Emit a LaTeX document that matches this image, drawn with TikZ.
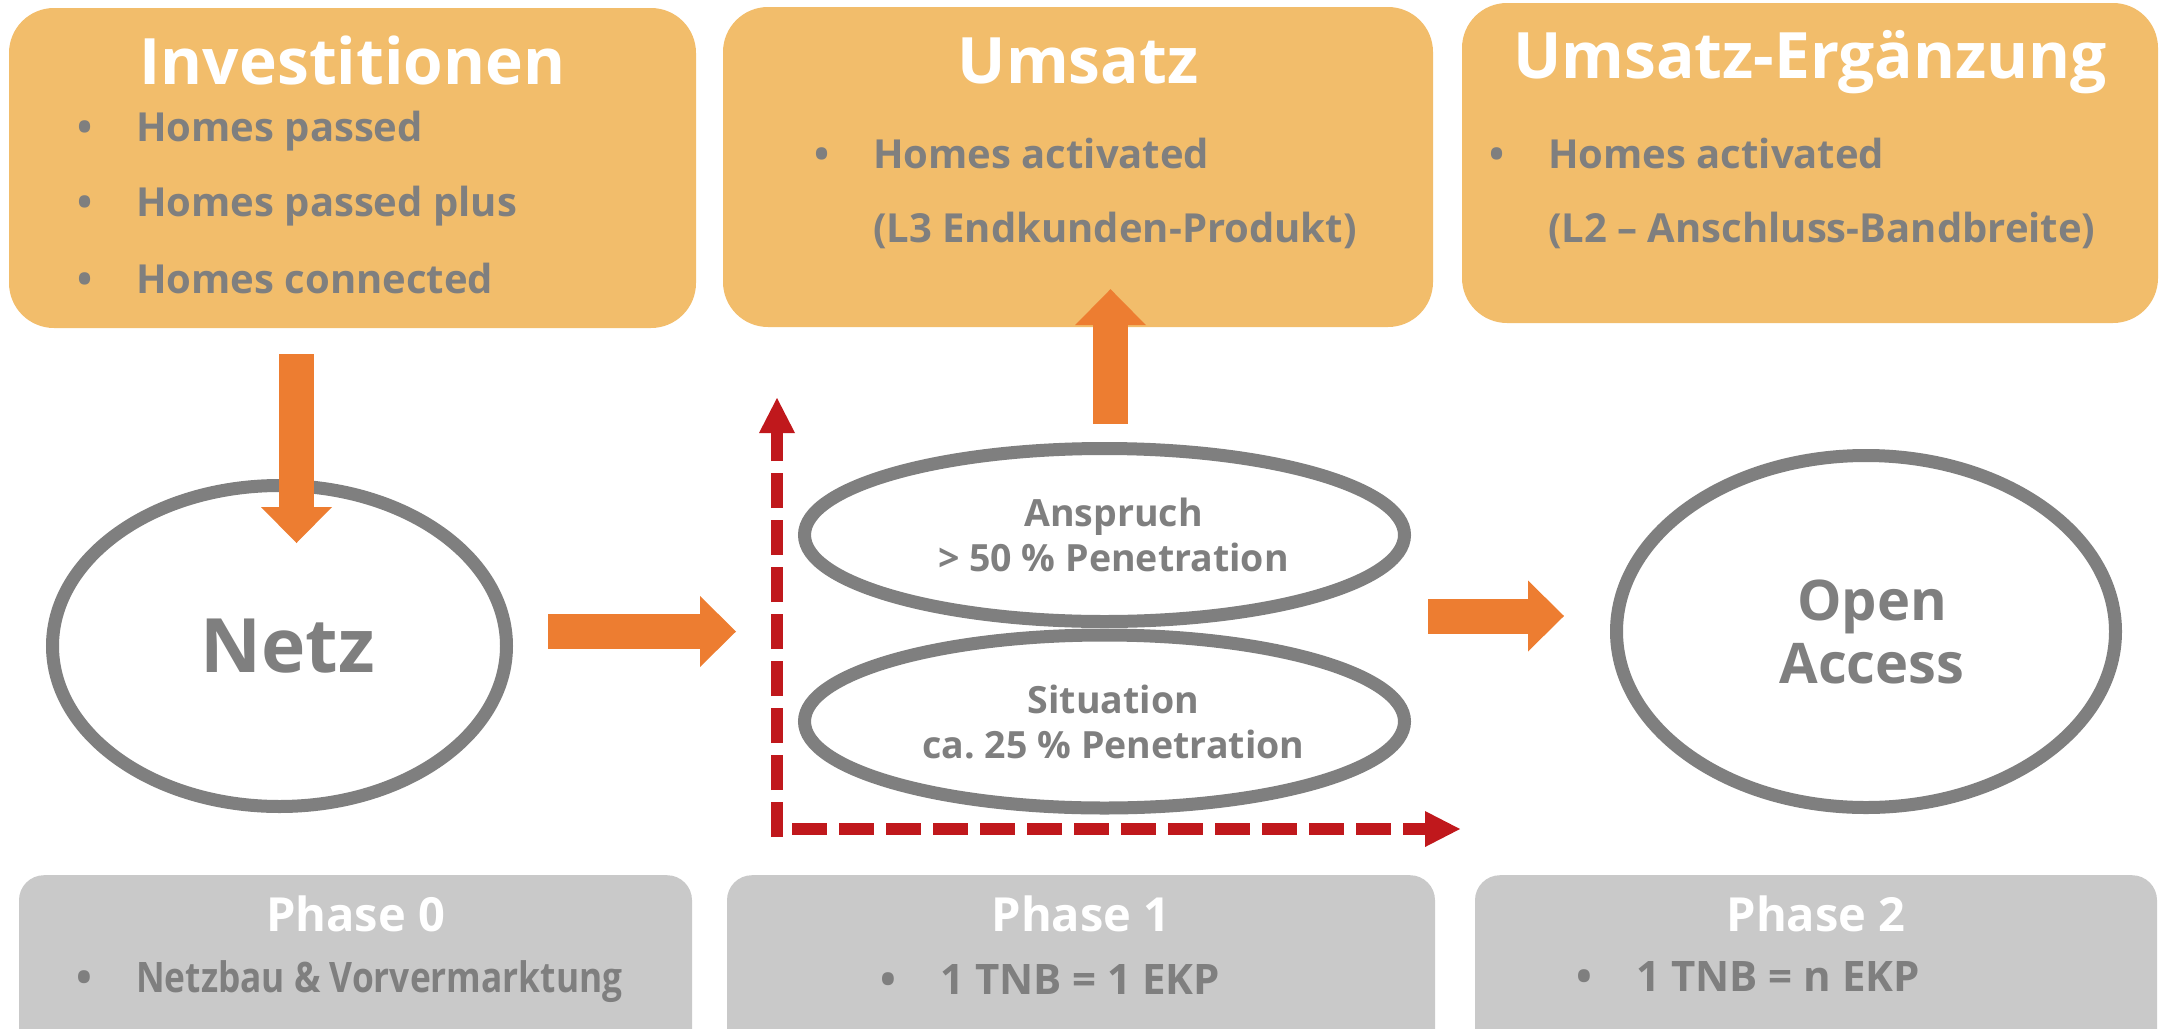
\documentclass[tikz,border=0pt]{standalone}
\usepackage{fontspec}
\setmainfont{Open Sans}
\usepackage{xcolor}
\usetikzlibrary{shapes.geometric,arrows.meta}

\definecolor{boxorange}{HTML}{F2BD6B}
\definecolor{arroworange}{HTML}{ED7D31}
\definecolor{textgray}{HTML}{7F7F7F}
\definecolor{phasegray}{HTML}{C9C9C9}
\definecolor{axisred}{HTML}{C0181C}

\newcommand{\bul}[1]{\makebox[0pt][r]{\textbullet\hspace{44pt}}#1}

\tikzset{
	topbox/.style={rectangle, rounded corners=45pt, fill=boxorange, minimum height=320pt, minimum width=#1},
	phasebox/.style={rectangle, rounded corners=25pt, fill=phasegray, anchor=north, minimum height=300pt, minimum width=#1},
	boxtitle/.style={text=white, anchor=base, inner sep=0pt, font=\bfseries\fontsize{64}{77}\selectfont},
	phasetitle/.style={text=white, anchor=base, inner sep=0pt, font=\bfseries\fontsize{47}{56}\selectfont},
	item/.style={text=textgray, anchor=base west, inner sep=0pt, font=\bfseries\fontsize{40}{48}\selectfont},
	ring/.style={ellipse, draw=textgray, line width=13pt, fill=white, text=textgray, inner sep=0pt, outer sep=0pt, align=center},
	bigarrow/.style={arroworange, line width=35pt, -{Triangle[width=71pt,length=36pt,line width=0pt]}},
	axisline/.style={axisred, line width=12pt, dash pattern=on 35pt off 12pt, -{Triangle[width=36pt,length=35pt,line width=0pt]}}
}

\begin{document}
\begin{tikzpicture}[x=1pt, y=-1pt]
		%\draw[help lines] (0,0) grid[step=100] (2160,1028);
		\useasboundingbox (0,0) rectangle (2160,1028);
		\clip (0,0) rectangle (2160,1028);

		% top boxes
		\node[topbox=687pt] (inv) at (352.5,168) {};
		\node[topbox=710pt] (ums) at (1078,167) {};
		\node[topbox=696pt] (erg) at (1810,163) {};

		\node[boxtitle] (invT) at ([yshift=-77pt]inv.north) {Investitionen};
		\node[boxtitle] (umsT) at ([yshift=-77pt]ums.north) {Umsatz};
		\node[boxtitle] (ergT) at ([yshift=-76pt]erg.north) {Umsatz-Ergänzung};

		\node[item] (inv1) at (136,141) {\bul{Homes passed}};
		\node[item] (inv2) at (136,216) {\bul{Homes passed plus}};
		\node[item] (inv3) at (136,293) {\bul{Homes connected}};
		\node[item] (ums1) at (873,168) {\bul{Homes activated}};
		\node[item] (ums2) at (873,242) {(L3 Endkunden-Produkt)};
		\node[item] (erg1) at (1548,168) {\bul{Homes activated}};
		\node[item] (erg2) at (1548,242) {(L2 -- Anschluss-Bandbreite)};

		% phases
		\node[ring, minimum width=454pt, minimum height=321pt, font=\bfseries\fontsize{75}{90}\selectfont] (netz) at (279.5,646) {\hspace*{16pt}Netz};
		\node[ring, minimum width=600pt, minimum height=173pt, font=\bfseries\fontsize{37.5}{45}\selectfont] (ansp) at (1104.5,535) {\hspace*{18pt}Anspruch\\\hspace*{18pt}> 50 \% Penetration};
		\node[ring, minimum width=600pt, minimum height=173pt, font=\bfseries\fontsize{37.5}{45}\selectfont] (sit) at (1104.5,721.5) {\hspace*{18pt}Situation\\\hspace*{18pt}ca.\ 25 \% Penetration};
		\node[ring, minimum width=499pt, minimum height=352pt, font=\bfseries\fontsize{56}{63}\selectfont] (oa) at (1866,631.5) {\hspace*{12pt}Open\\\hspace*{12pt}Access};

		% axes
		\coordinate (axo) at (777,829);
		\draw[axisline] ([yshift=-8pt]axo) -- ++(0,-439);
		\draw[axisline] ([xshift=15pt]axo) -- ++(668,0);

		% arrows
		\draw[bigarrow] ([xshift=-56pt,yshift=-26pt]inv.south) -- ([xshift=17pt,yshift=-57.5pt]netz.north);
		\draw[bigarrow] ([xshift=41.5pt,yshift=14.5pt]netz.east) -- ([xshift=229.5pt,yshift=14.5pt]netz.east);
		\draw[bigarrow] ([xshift=6pt,yshift=24.5pt]ansp.north) -- ([xshift=32.5pt,yshift=38pt]ums.south);
		\draw[bigarrow] ([xshift=-188.5pt,yshift=15.5pt]oa.west) -- ([xshift=-52.5pt,yshift=15.5pt]oa.west);

		% bottom boxes
		\node[phasebox=673pt] (ph0) at (355.5,875) {};
		\node[phasebox=708pt] (ph1) at (1081,875) {};
		\node[phasebox=682pt] (ph2) at (1816,875) {};

		\node[phasetitle] (ph0T) at ([yshift=-56pt]ph0.north) {Phase 0};
		\node[phasetitle] (ph1T) at ([yshift=-56pt]ph1.north) {Phase 1};
		\node[phasetitle] (ph2T) at ([yshift=-56pt]ph2.north) {Phase 2};

		\node[item, font=\bfseries\fontsize{42}{50}\selectfont] (ph0a) at (136,992) {\bul{\scalebox{0.84}[1]{Netzbau \& Vorvermarktung}}};
		\node[item, font=\bfseries\fontsize{42}{50}\selectfont] (ph1a) at (940,994) {\bul{1 TNB = 1 EKP}};
		\node[item, font=\bfseries\fontsize{42}{50}\selectfont] (ph2a) at (1636,991) {\bul{1 TNB = n EKP}};
\end{tikzpicture}
\end{document}
